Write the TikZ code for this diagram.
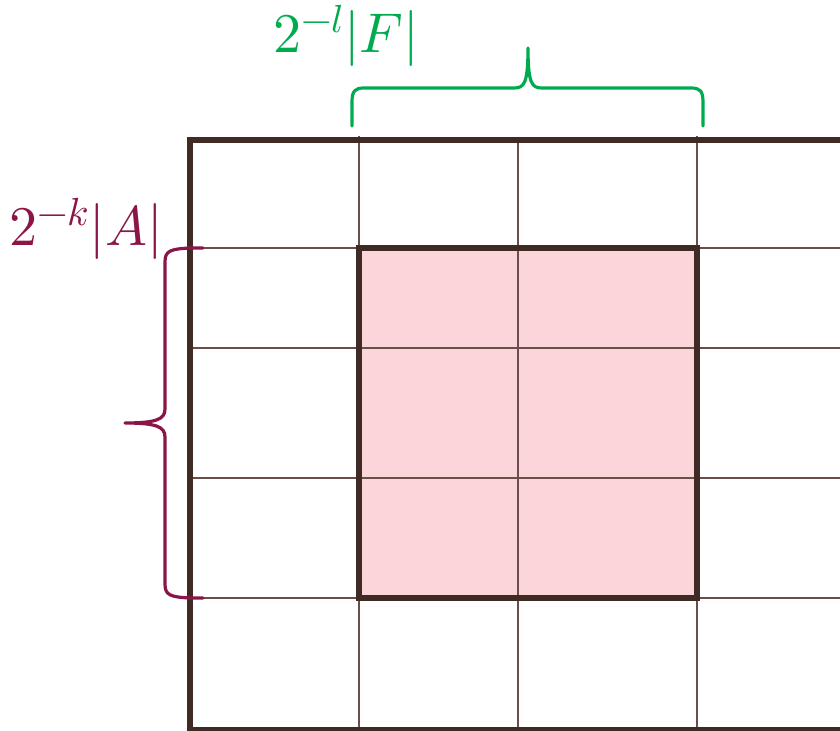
\documentclass[tikz,border=0pt]{standalone}
\usepackage{amsmath}
\usepackage{unicode-math}
\usepackage{xcolor}
\usepackage{tikz}
\usetikzlibrary{calc}

\definecolor{framebrown}{HTML}{3F2B24}
\definecolor{gridbrown}{HTML}{6B4E47}
\definecolor{cellpink}{HTML}{FCD5DB}
\definecolor{bracegreen}{HTML}{00AA4F}
\definecolor{bracewine}{HTML}{8B1547}

\begin{document}
\begin{tikzpicture}[x=0.75pt,y=-0.75pt,
    frame/.style={line width=3.8pt,framebrown},
    gridline/.style={line width=1.4pt,gridbrown},
    bracket/.style={line width=2.4pt,line cap=round,line join=round},
    sizelabel/.style={font=\fontsize{42}{50}\selectfont}]
    \useasboundingbox (0,0) rectangle (840,731);
    \clip (0,0) rectangle (840,731);

    % Shaded block
    \fill[cellpink] (359,248) rectangle (697,598);

    % Grid lines
    \foreach \gx/\gtop in {359/136,518/140,697/136}
        \draw[gridline] (\gx,\gtop) -- (\gx,735);
    \foreach \gy in {248,348,478,598}
        \draw[gridline] (190,\gy) -- (850,\gy);

    % Block border
    \draw[frame] (359,248) rectangle (697,598);

    % Outer frame
    \draw[frame] (850,140) -- (190,140) -- (190,729.5) -- (850,729.5);

    % Brace over the columns
    \coordinate (fleft) at (352,126);
    \coordinate (fright) at (703,126);
    \coordinate (ftip) at (528,48);
    \draw[bracket,bracegreen] (fleft) -- (352,102)
        .. controls (352,91) and (355,88) .. (364,88) -- (514,88)
        .. controls (524,88) and (528,84) .. (ftip)
        .. controls (528,84) and (532,88) .. (542,88) -- (691,88)
        .. controls (700,88) and (703,91) .. (703,102) -- (fright);
    \node[sizelabel,text=bracegreen] (flabel) at (346,36) {$2^{-l}|F|$};

    % Brace beside the rows
    \coordinate (atop) at (203,248);
    \coordinate (abottom) at (203,598);
    \coordinate (atip) at (125,423);
    \draw[bracket,bracewine] (atop) -- (190,248)
        .. controls (170,249) and (165,251) .. (165,262) -- (165,409)
        .. controls (165,419) and (157,423) .. (atip)
        .. controls (157,423) and (165,427) .. (165,437) -- (165,584)
        .. controls (165,595) and (170,597) .. (190,598) -- (abottom);
    \node[sizelabel,text=bracewine] (alabel) at (86,229) {$2^{-k}|A|$};
\end{tikzpicture}
\end{document}
